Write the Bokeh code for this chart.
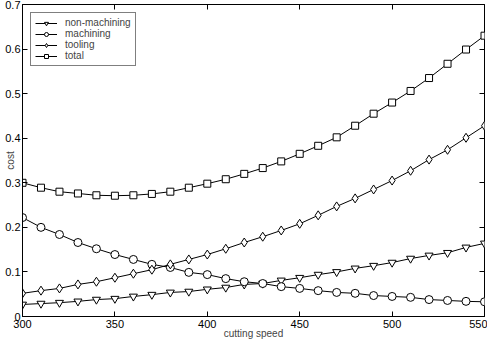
import math
from bokeh.plotting import figure
from bokeh.models import (Range1d, FixedTicker, LinearAxis, CustomJSTickFormatter, Legend,
                          LegendItem, ColumnDataSource)
from bokeh.embed import file_html
from bokeh.resources import INLINE

speed = [300, 310, 320, 330, 340, 350, 360, 370, 380, 390, 400, 410, 420,
         430, 440, 450, 460, 470, 480, 490, 500, 510, 520, 530, 540, 550]
non_machining = [0.027, 0.029, 0.031, 0.034, 0.038, 0.040, 0.045, 0.049, 0.054, 0.056,
                 0.061, 0.065, 0.072, 0.074, 0.081, 0.087, 0.094, 0.100, 0.108, 0.114,
                 0.121, 0.130, 0.137, 0.143, 0.155, 0.164]
machining = [0.222, 0.200, 0.184, 0.166, 0.152, 0.139, 0.128, 0.117, 0.110, 0.099,
             0.094, 0.085, 0.078, 0.074, 0.067, 0.063, 0.058, 0.054, 0.052, 0.047,
             0.045, 0.043, 0.038, 0.036, 0.034, 0.033]
tooling = [0.052, 0.058, 0.063, 0.072, 0.078, 0.087, 0.096, 0.105, 0.117, 0.128,
           0.139, 0.152, 0.166, 0.179, 0.193, 0.208, 0.227, 0.247, 0.265, 0.285,
           0.305, 0.327, 0.352, 0.374, 0.401, 0.428]
total = [0.300, 0.289, 0.280, 0.276, 0.272, 0.271, 0.272, 0.275, 0.280, 0.289,
         0.298, 0.308, 0.320, 0.333, 0.348, 0.365, 0.383, 0.402, 0.428, 0.455,
         0.480, 0.506, 0.535, 0.567, 0.599, 0.630]
x_ticks = [300, 350, 400, 450, 500, 550]
y_ticks = [0, 0.1, 0.2, 0.3, 0.4, 0.5, 0.6, 0.7]

FONT = "Liberation Sans"

p = figure(width=487, height=341, output_backend="svg", toolbar_location=None,
           x_range=Range1d(300, 550), y_range=Range1d(0, 0.7),
           min_border_left=22, min_border_right=3, min_border_top=4, min_border_bottom=0)
p.grid.visible = False
p.outline_line_color = "black"
p.outline_line_width = 1
p.background_fill_color = "white"

for ax in (p.xaxis[0], p.yaxis[0]):
    ax.major_tick_in = 5
    ax.major_tick_out = 0
    ax.minor_tick_line_color = None
    ax.axis_line_color = "black"
    ax.major_label_text_font = FONT
    ax.major_label_text_font_size = "11px"
    ax.major_label_text_color = "black"
    ax.axis_label_text_font = FONT
    ax.axis_label_text_font_size = "10px"
    ax.axis_label_text_font_style = "normal"
    ax.major_label_standoff = 2
    ax.axis_label_standoff = 1

p.xaxis.ticker = FixedTicker(ticks=x_ticks)
p.yaxis.ticker = FixedTicker(ticks=y_ticks)
p.yaxis.formatter = CustomJSTickFormatter(code="var s = tick.toFixed(1); return s === '0.0' ? '0' : s;")
p.xaxis.axis_label = "cutting speed"
p.xaxis.major_label_standoff = 3
p.xaxis.axis_label_standoff = -3
p.yaxis.axis_label = "cost"
p.yaxis.axis_label_standoff = -14

for loc, ticks in (("right", y_ticks), ("above", x_ticks)):
    ax = LinearAxis(ticker=FixedTicker(ticks=ticks))
    ax.major_tick_in = 5
    ax.major_tick_out = 0
    ax.minor_tick_line_color = None
    ax.axis_line_color = None
    ax.formatter = CustomJSTickFormatter(code="return '';")
    ax.major_label_standoff = 0
    p.add_layout(ax, loc)

src = ColumnDataSource(dict(x=speed, nm=non_machining, m=machining, t=tooling, tot=total))

items = []
for col, marker, name in (("nm", "inverted_triangle", "non-machining"),
                          ("m", "circle", "machining"),
                          ("t", "diamond", "tooling"),
                          ("tot", "square", "total")):
    ln = p.line("x", col, source=src, line_color="black", line_width=1)
    size = 9 if marker == "diamond" else 8
    if marker == "square":
        size = 7
    sc = p.scatter("x", col, source=src, marker=marker, size=size,
                   line_color="black", fill_color="white", line_width=1)
    items.append(LegendItem(label=name, renderers=[ln, sc]))

legend = Legend(items=items, location="top_left")
legend.label_text_font = FONT
legend.label_text_font_size = "10px"
legend.label_height = 9
legend.glyph_height = 10
legend.glyph_width = 22
legend.spacing = -3
legend.padding = 4
legend.margin = 8
legend.label_standoff = 8
legend.border_line_color = "black"
legend.border_line_width = 1
legend.background_fill_alpha = 1
p.add_layout(legend)

open("out.html", "w").write(file_html(p, INLINE))
